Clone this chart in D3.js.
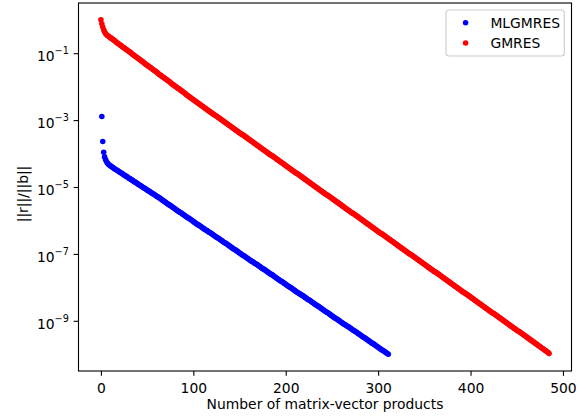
<!DOCTYPE html>
<html>
<head>
<meta charset="utf-8">
<script src="https://cdn.jsdelivr.net/npm/d3@7"></script>
<style>
  body { margin: 0; background: #fff; }
  text { font-family: "DejaVu Sans", sans-serif; fill: #000; }
</style>
</head>
<body>
<svg id="chart" width="586" height="419"></svg>
<script>
// Relative residual history, stored as log10(||r||/||b||), one entry per matrix-vector product.
const mlgmresFirstIteration = 1;
const mlgmresLog10 = [
  -2.89,-3.64,-3.96,-4.10,-4.18,-4.24,-4.28,-4.31,-4.34,-4.36,
  -4.38,-4.40,-4.42,-4.44,-4.46,-4.48,-4.49,-4.51,-4.53,-4.55,
  -4.57,-4.58,-4.60,-4.62,-4.64,-4.66,-4.67,-4.69,-4.71,-4.73,
  -4.75,-4.76,-4.78,-4.80,-4.82,-4.84,-4.85,-4.87,-4.89,-4.91,
  -4.93,-4.94,-4.96,-4.98,-5.00,-5.02,-5.03,-5.05,-5.07,-5.09,
  -5.11,-5.12,-5.14,-5.16,-5.18,-5.20,-5.21,-5.23,-5.25,-5.27,
  -5.29,-5.30,-5.32,-5.34,-5.36,-5.38,-5.40,-5.42,-5.44,-5.46,
  -5.48,-5.50,-5.52,-5.54,-5.55,-5.57,-5.59,-5.61,-5.63,-5.65,
  -5.67,-5.69,-5.71,-5.73,-5.75,-5.76,-5.78,-5.80,-5.82,-5.84,
  -5.86,-5.88,-5.90,-5.92,-5.93,-5.95,-5.97,-5.99,-6.01,-6.03,
  -6.05,-6.07,-6.09,-6.11,-6.13,-6.14,-6.16,-6.18,-6.20,-6.22,
  -6.24,-6.26,-6.28,-6.29,-6.31,-6.33,-6.35,-6.36,-6.38,-6.40,
  -6.42,-6.44,-6.46,-6.48,-6.50,-6.51,-6.53,-6.55,-6.57,-6.59,
  -6.61,-6.63,-6.65,-6.67,-6.68,-6.70,-6.72,-6.74,-6.76,-6.78,
  -6.80,-6.82,-6.84,-6.86,-6.87,-6.89,-6.91,-6.93,-6.95,-6.97,
  -6.99,-7.01,-7.03,-7.05,-7.06,-7.08,-7.10,-7.12,-7.14,-7.16,
  -7.18,-7.20,-7.22,-7.23,-7.25,-7.27,-7.29,-7.30,-7.32,-7.34,
  -7.36,-7.38,-7.40,-7.42,-7.44,-7.45,-7.47,-7.49,-7.51,-7.53,
  -7.55,-7.57,-7.59,-7.61,-7.62,-7.64,-7.66,-7.68,-7.70,-7.72,
  -7.74,-7.76,-7.78,-7.80,-7.81,-7.83,-7.85,-7.87,-7.89,-7.91,
  -7.93,-7.95,-7.97,-7.99,-8.00,-8.02,-8.04,-8.06,-8.08,-8.10,
  -8.12,-8.14,-8.16,-8.17,-8.19,-8.21,-8.23,-8.24,-8.26,-8.28,
  -8.30,-8.32,-8.34,-8.36,-8.37,-8.39,-8.41,-8.43,-8.45,-8.47,
  -8.49,-8.51,-8.53,-8.55,-8.56,-8.58,-8.60,-8.62,-8.64,-8.66,
  -8.68,-8.70,-8.72,-8.74,-8.75,-8.77,-8.79,-8.81,-8.83,-8.85,
  -8.87,-8.89,-8.91,-8.93,-8.94,-8.96,-8.98,-9.00,-9.02,-9.04,
  -9.06,-9.08,-9.10,-9.11,-9.13,-9.15,-9.17,-9.18,-9.20,-9.22,
  -9.24,-9.26,-9.28,-9.30,-9.31,-9.33,-9.35,-9.37,-9.39,-9.41,
  -9.43,-9.45,-9.47,-9.49,-9.50,-9.52,-9.54,-9.56,-9.58,-9.60,
  -9.62,-9.64,-9.66,-9.68,-9.69,-9.71,-9.73,-9.75,-9.77,-9.79,
  -9.81,-9.83,-9.85,-9.87,-9.88,-9.90,-9.92,-9.94,-9.96,-9.98,
  -10.00
];

const gmresFirstIteration = 0;
const gmresLog10 = [
  0.00,-0.12,-0.22,-0.30,-0.36,-0.41,-0.44,-0.47,-0.49,-0.51,
  -0.53,-0.55,-0.57,-0.59,-0.61,-0.63,-0.66,-0.68,-0.70,-0.72,
  -0.74,-0.76,-0.78,-0.80,-0.82,-0.84,-0.86,-0.88,-0.90,-0.92,
  -0.94,-0.96,-0.98,-1.00,-1.03,-1.05,-1.07,-1.09,-1.11,-1.13,
  -1.15,-1.17,-1.19,-1.21,-1.23,-1.25,-1.27,-1.30,-1.32,-1.34,
  -1.36,-1.38,-1.40,-1.42,-1.44,-1.46,-1.48,-1.50,-1.52,-1.54,
  -1.56,-1.58,-1.61,-1.63,-1.65,-1.67,-1.69,-1.71,-1.73,-1.75,
  -1.77,-1.79,-1.81,-1.83,-1.85,-1.87,-1.90,-1.92,-1.94,-1.96,
  -1.98,-2.00,-2.02,-2.04,-2.06,-2.08,-2.10,-2.12,-2.14,-2.16,
  -2.18,-2.20,-2.23,-2.25,-2.27,-2.29,-2.31,-2.33,-2.35,-2.37,
  -2.39,-2.41,-2.43,-2.45,-2.47,-2.49,-2.51,-2.53,-2.55,-2.57,
  -2.59,-2.61,-2.63,-2.65,-2.67,-2.69,-2.71,-2.73,-2.75,-2.77,
  -2.79,-2.81,-2.83,-2.85,-2.86,-2.88,-2.90,-2.92,-2.94,-2.96,
  -2.98,-3.00,-3.02,-3.04,-3.06,-3.08,-3.10,-3.12,-3.14,-3.16,
  -3.18,-3.20,-3.22,-3.24,-3.26,-3.28,-3.30,-3.32,-3.34,-3.36,
  -3.38,-3.40,-3.42,-3.43,-3.45,-3.47,-3.49,-3.51,-3.53,-3.55,
  -3.57,-3.59,-3.61,-3.63,-3.65,-3.67,-3.69,-3.71,-3.73,-3.75,
  -3.77,-3.79,-3.81,-3.83,-3.85,-3.87,-3.89,-3.91,-3.93,-3.95,
  -3.97,-3.99,-4.01,-4.03,-4.05,-4.06,-4.08,-4.10,-4.12,-4.14,
  -4.16,-4.18,-4.20,-4.22,-4.24,-4.26,-4.28,-4.30,-4.32,-4.34,
  -4.36,-4.38,-4.40,-4.42,-4.44,-4.46,-4.48,-4.50,-4.52,-4.54,
  -4.56,-4.58,-4.59,-4.61,-4.63,-4.65,-4.67,-4.69,-4.71,-4.73,
  -4.75,-4.77,-4.79,-4.81,-4.83,-4.85,-4.87,-4.89,-4.91,-4.93,
  -4.95,-4.97,-4.99,-5.01,-5.03,-5.05,-5.07,-5.09,-5.11,-5.13,
  -5.15,-5.17,-5.19,-5.21,-5.23,-5.24,-5.26,-5.28,-5.30,-5.32,
  -5.34,-5.36,-5.38,-5.40,-5.42,-5.44,-5.46,-5.48,-5.50,-5.52,
  -5.54,-5.56,-5.58,-5.60,-5.62,-5.64,-5.66,-5.68,-5.70,-5.72,
  -5.74,-5.76,-5.78,-5.79,-5.81,-5.83,-5.85,-5.87,-5.89,-5.91,
  -5.93,-5.95,-5.97,-5.99,-6.01,-6.03,-6.05,-6.07,-6.09,-6.11,
  -6.13,-6.15,-6.17,-6.19,-6.21,-6.23,-6.25,-6.27,-6.29,-6.31,
  -6.33,-6.35,-6.37,-6.39,-6.40,-6.42,-6.44,-6.46,-6.48,-6.50,
  -6.52,-6.54,-6.56,-6.58,-6.60,-6.62,-6.64,-6.66,-6.68,-6.70,
  -6.72,-6.74,-6.76,-6.78,-6.80,-6.82,-6.84,-6.86,-6.88,-6.90,
  -6.92,-6.94,-6.96,-6.98,-7.00,-7.01,-7.03,-7.05,-7.07,-7.09,
  -7.11,-7.13,-7.15,-7.17,-7.19,-7.21,-7.23,-7.25,-7.27,-7.29,
  -7.31,-7.33,-7.35,-7.37,-7.39,-7.41,-7.43,-7.45,-7.47,-7.49,
  -7.51,-7.53,-7.54,-7.56,-7.58,-7.60,-7.62,-7.64,-7.66,-7.68,
  -7.70,-7.72,-7.74,-7.76,-7.78,-7.80,-7.82,-7.84,-7.86,-7.88,
  -7.90,-7.92,-7.94,-7.96,-7.98,-8.00,-8.02,-8.04,-8.06,-8.08,
  -8.10,-8.12,-8.14,-8.16,-8.17,-8.19,-8.21,-8.23,-8.25,-8.27,
  -8.29,-8.31,-8.33,-8.35,-8.37,-8.39,-8.41,-8.43,-8.45,-8.47,
  -8.49,-8.51,-8.53,-8.55,-8.57,-8.59,-8.61,-8.63,-8.65,-8.67,
  -8.69,-8.71,-8.73,-8.75,-8.77,-8.78,-8.80,-8.82,-8.84,-8.86,
  -8.88,-8.90,-8.92,-8.94,-8.96,-8.98,-9.00,-9.02,-9.04,-9.06,
  -9.08,-9.10,-9.12,-9.14,-9.16,-9.18,-9.20,-9.22,-9.24,-9.26,
  -9.28,-9.30,-9.32,-9.33,-9.35,-9.37,-9.39,-9.41,-9.43,-9.45,
  -9.47,-9.49,-9.51,-9.53,-9.55,-9.57,-9.59,-9.61,-9.63,-9.65,
  -9.67,-9.69,-9.71,-9.73,-9.75,-9.77,-9.79,-9.81,-9.83,-9.85,
  -9.87,-9.89,-9.91,-9.93,-9.95,-9.98
];

const seriesNames = ["MLGMRES", "GMRES"];
const seriesColors = ["#0000ff", "#ff0000"];
const xTickValues = [0, 100, 200, 300, 400, 500];
const yTickExponents = [-1, -3, -5, -7, -9];
const xAxisLabel = "Number of matrix-vector products";
const yAxisLabel = "||r||/||b||";

// Plot geometry
const W = 586, H = 419;
const plot = { left: 78.5, right: 571.5, top: 3, bottom: 371 };
const fontSize = 13.89;
const dotRadius = 2.78;

const toPoints = (first, logs) => logs.map((v, i) => ({ x: first + i, y: Math.pow(10, v) }));
const series = [
  { name: seriesNames[0], color: seriesColors[0], points: toPoints(mlgmresFirstIteration, mlgmresLog10) },
  { name: seriesNames[1], color: seriesColors[1], points: toPoints(gmresFirstIteration, gmresLog10) }
];

// Autoscale with 5% margins (log space for y)
const allPts = series.flatMap(s => s.points);
const [x0, x1] = d3.extent(allPts, d => d.x);
const xPad = (x1 - x0) * 0.05;
const [ly0, ly1] = d3.extent(allPts, d => Math.log10(d.y));
const yPad = (ly1 - ly0) * 0.05;

const x = d3.scaleLinear().domain([x0 - xPad, x1 + xPad]).range([plot.left, plot.right]);
const y = d3.scaleLog().domain([Math.pow(10, ly0 - yPad), Math.pow(10, ly1 + yPad)]).range([plot.bottom, plot.top]);

const svg = d3.select("#chart");
svg.append("rect").attr("width", W).attr("height", H).attr("fill", "#fff");

// Markers
series.forEach(s => {
  svg.append("g")
    .attr("fill", s.color)
    .selectAll("circle")
    .data(s.points)
    .join("circle")
    .attr("cx", d => x(d.x))
    .attr("cy", d => y(d.y))
    .attr("r", dotRadius);
});

// Axes frame
svg.append("rect")
  .attr("x", plot.left).attr("y", plot.top)
  .attr("width", plot.right - plot.left).attr("height", plot.bottom - plot.top)
  .attr("fill", "none").attr("stroke", "#000").attr("stroke-width", 1.1);

// X axis
const xAxis = svg.append("g")
  .attr("transform", `translate(0,${plot.bottom})`)
  .call(d3.axisBottom(x).tickValues(xTickValues).tickSize(4.86).tickFormat(d3.format("d")));
xAxis.select(".domain").remove();
xAxis.selectAll(".tick line").attr("stroke", "#000").attr("stroke-width", 1.1);
xAxis.selectAll(".tick text")
  .attr("y", 21.6).attr("dy", null)
  .attr("font-size", fontSize).attr("font-family", "DejaVu Sans");

// Y axis with 10^n labels
const yAxis = svg.append("g")
  .attr("transform", `translate(${plot.left},0)`)
  .call(d3.axisLeft(y).tickValues(yTickExponents.map(e => Math.pow(10, e))).tickSize(4.86).tickFormat(""));
yAxis.select(".domain").remove();
yAxis.selectAll(".tick line").attr("stroke", "#000").attr("stroke-width", 1.1);
yAxis.selectAll(".tick text").each(function(d) {
  const t = d3.select(this)
    .attr("x", -9.7).attr("dy", null).attr("y", 7.7)
    .attr("text-anchor", "end")
    .attr("font-size", fontSize).attr("font-family", "DejaVu Sans");
  t.text(null);
  t.append("tspan").text("10");
  t.append("tspan").attr("dy", -7).attr("font-size", 9.7)
    .text("\u2212" + Math.abs(Math.round(Math.log10(d))));
});

// Axis labels
svg.append("text")
  .attr("x", (plot.left + plot.right) / 2).attr("y", 409)
  .attr("text-anchor", "middle").attr("font-size", fontSize)
  .text(xAxisLabel);
svg.append("text")
  .attr("transform", `translate(27.8,194) rotate(-90)`)
  .attr("text-anchor", "middle").attr("font-size", fontSize)
  .text(yAxisLabel);

// Legend
const legend = svg.append("g");
legend.append("rect")
  .attr("x", 446).attr("y", 10).attr("width", 118.3).attr("height", 46)
  .attr("rx", 3).attr("fill", "#fff").attr("fill-opacity", 0.8)
  .attr("stroke", "#cccccc").attr("stroke-width", 1.1);
series.forEach((s, i) => {
  const cy = 22.7 + i * 20.3;
  legend.append("circle").attr("cx", 465.6).attr("cy", cy).attr("r", dotRadius).attr("fill", s.color);
  legend.append("text").attr("x", 490.4).attr("y", cy + 5.2)
    .attr("font-size", fontSize).text(s.name);
});
</script>
</body>
</html>
